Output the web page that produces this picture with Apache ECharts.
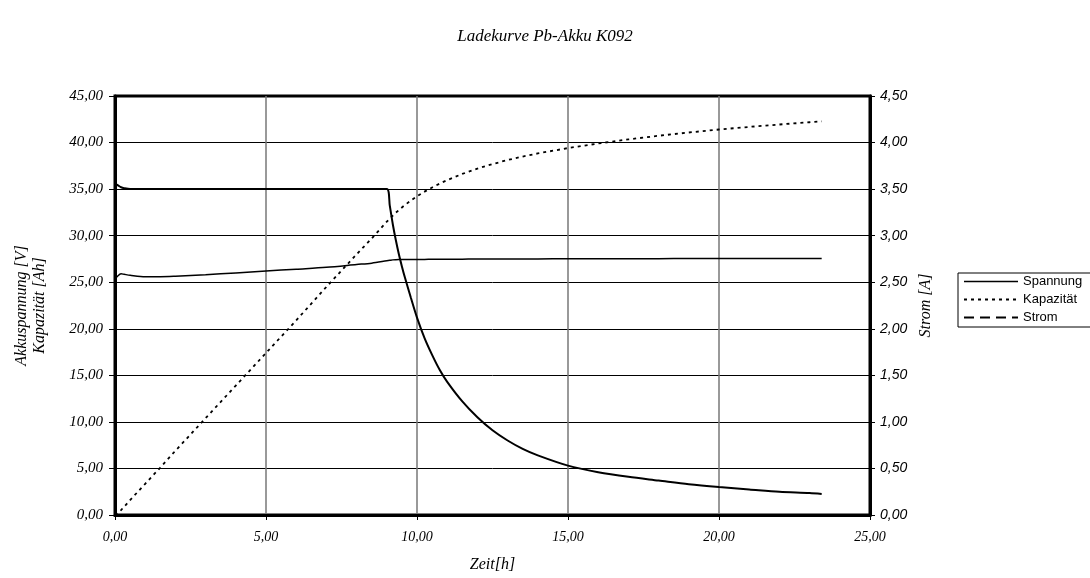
<!DOCTYPE html>
<html>
<head>
<meta charset="utf-8">
<script src="https://cdn.jsdelivr.net/npm/echarts@6/dist/echarts.min.js"></script>
<style>
html, body { margin: 0; padding: 0; background: #fff; }
#chart { width: 1090px; height: 578px; }
</style>
</head>
<body>
<div id="chart"></div>
<script>
// Zeit [h], gemeinsame Stuetzstellen
var zeit = [0, 0.1, 0.2, 0.3, 0.5, 1, 1.5, 2, 3, 4, 5, 6, 7, 8, 8.5, 9, 9.1, 9.2, 9.3, 9.4, 9.5, 9.6, 9.8,
	10, 10.25, 10.5, 10.75, 11, 11.5, 12, 12.5, 13, 13.5, 14, 15, 16, 17, 18, 19, 20, 21, 22, 23, 23.4];
// Akkuspannung [V]
var spannung = [25.3, 25.7, 25.9, 25.85, 25.75, 25.6, 25.6, 25.65, 25.8, 26.0, 26.2, 26.4, 26.6, 26.9, 27.05, 27.3, 27.35, 27.4, 27.42, 27.43, 27.43, 27.44, 27.44,
	27.45, 27.45, 27.46, 27.46, 27.47, 27.48, 27.5, 27.5, 27.5, 27.5, 27.5, 27.52, 27.52, 27.53, 27.53, 27.54, 27.54, 27.55, 27.55, 27.55, 27.55];
// Kapazitaet [Ah]
var kapazitaet = [0, 0.2, 0.53, 0.88, 1.6, 3.35, 5.1, 6.9, 10.4, 13.9, 17.4, 20.9, 24.5, 28.0, 29.7, 31.5, 31.84, 32.16, 32.47, 32.75, 33.03, 33.29, 33.78,
	34.23, 34.73, 35.18, 35.59, 35.96, 36.63, 37.2, 37.69, 38.12, 38.5, 38.83, 39.41, 39.9, 40.34, 40.73, 41.08, 41.4, 41.68, 41.94, 42.18, 42.27];
// Strom [A]
var strom = [3.56, 3.54, 3.52, 3.51, 3.5, 3.5, 3.5, 3.5, 3.5, 3.5, 3.5, 3.5, 3.5, 3.5, 3.5, 3.5, 3.32, 3.12, 2.95, 2.8, 2.67, 2.55, 2.33,
	2.12, 1.9, 1.72, 1.56, 1.43, 1.22, 1.05, 0.91, 0.8, 0.71, 0.64, 0.53, 0.46, 0.41, 0.37, 0.33, 0.3, 0.275, 0.25, 0.235, 0.225];

function pairs(vals) {
	return zeit.map(function (t, i) { return [t, vals[i]]; });
}
function komma(v) {
	return v.toFixed(2).replace('.', ',');
}

var serif = 'Liberation Serif', sans = 'Liberation Sans';
var myChart = echarts.init(document.getElementById('chart'));

var option = {
	animation: false,
	backgroundColor: '#fff',
	title: {
		text: 'Ladekurve Pb-Akku K092',
		left: 'center',
		top: 23,
		textStyle: { fontFamily: serif, fontStyle: 'italic', fontWeight: 'normal', fontSize: 17, color: '#000' }
	},
	legend: {
		orient: 'vertical',
		left: 958,
		top: 273,
		itemWidth: 54,
		itemHeight: 14,
		itemGap: 5,
		padding: [2, 12, 3, 5],
		borderColor: '#000',
		borderWidth: 1,
		borderRadius: 0,
		// nur die Linie im Legendensymbol, kein Punkt
		itemStyle: { color: 'rgba(0,0,0,0)', borderWidth: 0, opacity: 0 },
		textStyle: { fontFamily: sans, fontSize: 13, color: '#000' },
		data: [
			{ name: 'Spannung', lineStyle: { type: 'solid', width: 1.5 } },
			{ name: 'Kapazität', lineStyle: { type: [3, 4], width: 2 } },
			{ name: 'Strom', lineStyle: { type: [10, 6], width: 2 } }
		]
	},
	grid: {
		left: 115, right: 220, top: 96, bottom: 61,
		show: true, borderColor: '#000', borderWidth: 3
	},
	xAxis: {
		type: 'value',
		min: 0, max: 25, interval: 5,
		name: 'Zeit[h]',
		nameLocation: 'middle',
		nameGap: 42,
		nameTextStyle: { fontFamily: serif, fontStyle: 'italic', fontSize: 16, color: '#000' },
		axisLine: { lineStyle: { color: '#000', width: 3 } },
		axisTick: { show: true, length: 5, lineStyle: { color: '#000' } },
		axisLabel: { fontFamily: serif, fontStyle: 'italic', fontSize: 14, color: '#000', margin: 15, formatter: komma },
		splitLine: { show: true, lineStyle: { color: '#777', width: 1.5 } }
	},
	yAxis: [{
		type: 'value',
		min: 0, max: 45, interval: 5,
		name: 'Akkuspannung [V]\nKapazität [Ah]',
		nameLocation: 'middle',
		nameGap: 66,
		nameTextStyle: { fontFamily: serif, fontStyle: 'italic', fontSize: 16, color: '#000', lineHeight: 18 },
		axisLine: { show: true, lineStyle: { color: '#000', width: 3 } },
		axisTick: { show: true, length: 6, lineStyle: { color: '#000' } },
		axisLabel: { fontFamily: serif, fontStyle: 'italic', fontSize: 15, color: '#000', margin: 12, formatter: komma },
		splitLine: { show: true, lineStyle: { color: '#000', width: 1 } }
	}, {
		type: 'value',
		min: 0, max: 4.5, interval: 0.5,
		name: 'Strom [A]',
		nameLocation: 'middle',
		nameGap: 42,
		nameTextStyle: { fontFamily: serif, fontStyle: 'italic', fontSize: 16, color: '#000' },
		axisLine: { show: true, lineStyle: { color: '#000', width: 3 } },
		axisTick: { show: true, length: 5, lineStyle: { color: '#000' } },
		axisLabel: { fontFamily: sans, fontStyle: 'italic', fontSize: 14, color: '#000', margin: 10, formatter: komma },
		splitLine: { show: false }
	}],
	series: [{
		name: 'Spannung',
		type: 'line',
		yAxisIndex: 0,
		symbol: 'none',
		smooth: 0.3,
		color: '#000',
		lineStyle: { color: '#000', width: 1.5 },
		data: pairs(spannung)
	}, {
		name: 'Kapazität',
		type: 'line',
		yAxisIndex: 0,
		symbol: 'none',
		color: '#000',
		lineStyle: { color: '#000', width: 1.8, type: [3, 4] },
		data: pairs(kapazitaet)
	}, {
		name: 'Strom',
		type: 'line',
		yAxisIndex: 1,
		symbol: 'none',
		smooth: 0.3,
		color: '#000',
		lineStyle: { color: '#000', width: 2 },
		data: pairs(strom)
	}]
};

myChart.setOption(option);
</script>
</body>
</html>
